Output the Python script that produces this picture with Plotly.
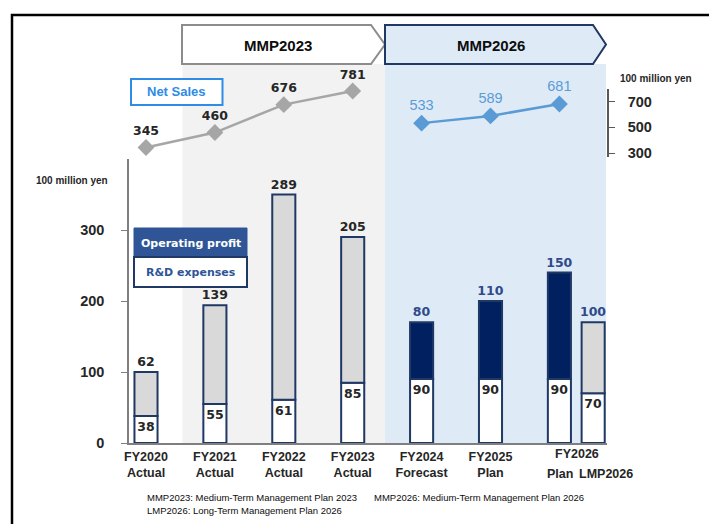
import plotly.graph_objects as go

# ---------------- data ----------------
categories = ["FY2020", "FY2021", "FY2022", "FY2023", "FY2024", "FY2025", "FY2026"]
status = ["Actual", "Actual", "Actual", "Actual", "Forecast", "Plan", "Plan"]
rd_expenses = [38, 55, 61, 85, 90, 90, 90]
operating_profit = [62, 139, 289, 205, 80, 110, 150]
net_sales = [345, 460, 676, 781, 533, 589, 681]
lmp_category = "FY2026"
lmp_rd = [70]
lmp_op = [100]
y_ticks = [0, 100, 200, 300]
y2_ticks = [300, 500, 700]

# ---------------- layout helpers ----------------
W, H = 709, 524
L, R, T, B = 129, 102, 89, 81
PW, PH = W - L - R, H - T - B


def px(x):
    return (x - L) / PW


def py(y):
    return (H - B - y) / PH


NAVY = "#203864"
DARK_NAVY = "#002060"
GREY_FILL = "#d9d9d9"
TXT = "#262626"
BLUE_LINE = "#5b9bd5"
GREY_LINE = "#a6a6a6"

bar_w = 0.335
main_off = -bar_w / 2
lmp_off = 0.49 - bar_w / 2

actual_mask = [s == "Actual" for s in status]
op_colors = [GREY_FILL if a else DARK_NAVY for a in actual_mask]
op_txt_colors = [TXT if a else "#2f4a8a" for a in actual_mask]

fig = go.Figure()

num_font = dict(family="DejaVu Sans", size=12.5, color=TXT, weight="bold")

# R&D bars (bottom)
fig.add_trace(go.Bar(
    x=categories, y=rd_expenses, width=bar_w, offset=main_off,
    marker=dict(color="white", line=dict(color=NAVY, width=2)),
    text=[str(v) for v in rd_expenses], textposition="inside",
    insidetextanchor="end", textangle=0, constraintext="none",
    textfont=num_font, showlegend=False, hoverinfo="skip"))
# operating profit bars (top)
fig.add_trace(go.Bar(
    x=categories, y=operating_profit, base=rd_expenses, width=bar_w, offset=main_off,
    marker=dict(color=op_colors, line=dict(color=NAVY, width=2)),
    text=[str(v) for v in operating_profit], textposition="outside",
    textangle=0, constraintext="none", cliponaxis=False,
    textfont=dict(family="DejaVu Sans", size=12.5, color=op_txt_colors, weight="bold"),
    showlegend=False, hoverinfo="skip"))
# LMP2026 bars
fig.add_trace(go.Bar(
    x=[lmp_category], y=lmp_rd, width=bar_w, offset=lmp_off,
    marker=dict(color="white", line=dict(color=NAVY, width=2)),
    text=[str(v) for v in lmp_rd], textposition="inside",
    insidetextanchor="end", textangle=0, constraintext="none",
    textfont=num_font, showlegend=False, hoverinfo="skip"))
fig.add_trace(go.Bar(
    x=[lmp_category], y=lmp_op, base=lmp_rd, width=bar_w, offset=lmp_off,
    marker=dict(color=GREY_FILL, line=dict(color=NAVY, width=2)),
    text=[str(v) for v in lmp_op], textposition="outside",
    textangle=0, constraintext="none", cliponaxis=False,
    textfont=dict(family="DejaVu Sans", size=12.5, color="#2f4a8a", weight="bold"),
    showlegend=False, hoverinfo="skip"))

# Net sales lines
act_x = [c for c, a in zip(categories, actual_mask) if a]
act_y = [v for v, a in zip(net_sales, actual_mask) if a]
pln_x = [c for c, a in zip(categories, actual_mask) if not a]
pln_y = [v for v, a in zip(net_sales, actual_mask) if not a]
fig.add_trace(go.Scatter(
    x=act_x, y=act_y, yaxis="y2", mode="lines+markers+text",
    line=dict(color=GREY_LINE, width=2.5),
    marker=dict(symbol="diamond", size=13, color=GREY_LINE),
    text=[str(v) for v in act_y], textposition="top center", cliponaxis=False,
    textfont=dict(family="DejaVu Sans", size=12.5, color=TXT, weight="bold"),
    showlegend=False, hoverinfo="skip"))
fig.add_trace(go.Scatter(
    x=pln_x, y=pln_y, yaxis="y2", mode="lines+markers+text",
    line=dict(color=BLUE_LINE, width=2.5),
    marker=dict(symbol="diamond", size=13, color=BLUE_LINE),
    text=[str(v) for v in pln_y], textposition="top center", cliponaxis=False,
    textfont=dict(family="Liberation Sans", size=14.5, color=BLUE_LINE),
    showlegend=False, hoverinfo="skip"))

# ---------------- axes ----------------
ticktext = [f"{c}<br>{s}" for c, s in zip(categories, status)]
ticktext[-1] = ""
cat_step = PW / 68.9
x_start = -(146 - L) / 68.9
fig.update_layout(
    width=W, height=H, margin=dict(l=L, r=R, t=T, b=B),
    paper_bgcolor="white", plot_bgcolor="rgba(0,0,0,0)",
    barmode="overlay", showlegend=False,
    xaxis=dict(type="category", range=[x_start, x_start + cat_step],
               tickmode="array", tickvals=categories, ticktext=ticktext,
               showgrid=False, zeroline=False, showline=True,
               linecolor="#7f7f7f", linewidth=1.5, ticks="",
               ticklabelstandoff=1,
               tickfont=dict(family="Liberation Sans", size=12.5, color=TXT, weight="bold"),
               anchor="y", fixedrange=True),
    yaxis=dict(domain=[0, py(159)], range=[0, 400], tickvals=y_ticks,
               showgrid=False, zeroline=False, showline=True,
               linecolor="#7f7f7f", linewidth=1.5, ticks="outside",
               ticklen=6, tickcolor="#7f7f7f", ticklabelstandoff=14,
               tickfont=dict(family="Liberation Sans", size=14.5, color=TXT, weight="bold"),
               fixedrange=True),
    yaxis2=dict(domain=[py(157), 1], range=[271, 797], tickvals=y2_ticks,
                anchor="x", side="right",
                showgrid=False, zeroline=False, showline=True,
                linecolor="#595959", linewidth=1.5, ticks="outside",
                ticklen=6, tickcolor="#595959", ticklabelstandoff=10,
                tickfont=dict(family="Liberation Sans", size=14.5, color=TXT, weight="bold"),
                fixedrange=True),
)

# ---------------- decorations ----------------
shapes = []
# background regions
shapes.append(dict(type="rect", xref="paper", yref="paper", x0=px(182.5), x1=px(385),
                   y0=py(443), y1=py(64), fillcolor="#f2f2f2", line=dict(width=0), layer="below"))
shapes.append(dict(type="rect", xref="paper", yref="paper", x0=px(385), x1=px(606),
                   y0=py(443), y1=py(64), fillcolor="#deebf7", line=dict(width=0), layer="below"))


def pent(x0, xf, xp, y0, y1):
    ym = (y0 + y1) / 2
    pts = [(x0, y0), (xf, y0), (xp, ym), (xf, y1), (x0, y1)]
    return "M " + " L ".join(f"{px(a):.5f},{py(b):.5f}" for a, b in pts) + " Z"


shapes.append(dict(type="path", xref="paper", yref="paper", path=pent(182, 371, 385, 25, 64),
                   fillcolor="white", line=dict(color="#8c8c8c", width=2)))
shapes.append(dict(type="path", xref="paper", yref="paper", path=pent(385, 593, 606, 25, 64),
                   fillcolor="#deebf7", line=dict(color=NAVY, width=2)))
# Net Sales box
shapes.append(dict(type="rect", xref="paper", yref="paper", x0=px(131), x1=px(222.5),
                   y0=py(105), y1=py(79), fillcolor="white", line=dict(color="#2e8be6", width=2)))
# legend boxes
shapes.append(dict(type="rect", xref="paper", yref="paper", x0=px(134), x1=px(247),
                   y0=py(257), y1=py(228), fillcolor="#2f5597", line=dict(color="#2f5597", width=1)))
shapes.append(dict(type="rect", xref="paper", yref="paper", x0=px(134), x1=px(247),
                   y0=py(287), y1=py(257), fillcolor="white", line=dict(color=NAVY, width=2)))
# outer frame
shapes.append(dict(type="rect", xref="paper", yref="paper", x0=px(12), x1=px(730),
                   y0=py(545), y1=py(15), fillcolor="rgba(0,0,0,0)", line=dict(color="black", width=2.5)))
fig.update_layout(shapes=shapes)

ann = []


def txt(x, y, s, size, color, family="Liberation Sans", bold=True, xanchor="center"):
    ann.append(dict(xref="paper", yref="paper", x=px(x), y=py(y), text=s, showarrow=False,
                    xanchor=xanchor, yanchor="middle",
                    font=dict(family=family, size=size, color=color,
                              weight="bold" if bold else "normal")))


txt(278, 45, "MMP2023", 15, "#0d0d0d")
txt(491, 45, "MMP2026", 15, "#0d0d0d")
txt(176.5, 92, "Net Sales", 13, "#2e8be6")
txt(190.5, 243, "Operating profit", 11, "white", family="DejaVu Sans")
txt(190.5, 272, "R&D expenses", 11, "#2f5597", family="DejaVu Sans")
txt(72, 180, "100 million yen", 10, TXT)
txt(656, 78, "100 million yen", 10, TXT)
txt(577, 454, "FY2026", 12.5, TXT)
txt(560, 474, "Plan", 12.5, TXT)
txt(606, 474, "LMP2026", 12.5, TXT)
txt(145, 497, "MMP2023: Medium-Term Management Plan 2023", 9.5, "#0d0d0d", bold=False, xanchor="left")
txt(372, 497, "MMP2026: Medium-Term Management Plan 2026", 9.5, "#0d0d0d", bold=False, xanchor="left")
txt(145, 510, "LMP2026: Long-Term Management Plan 2026", 9.5, "#0d0d0d", bold=False, xanchor="left")
fig.update_layout(annotations=ann)

fig.write_html("out.html")
